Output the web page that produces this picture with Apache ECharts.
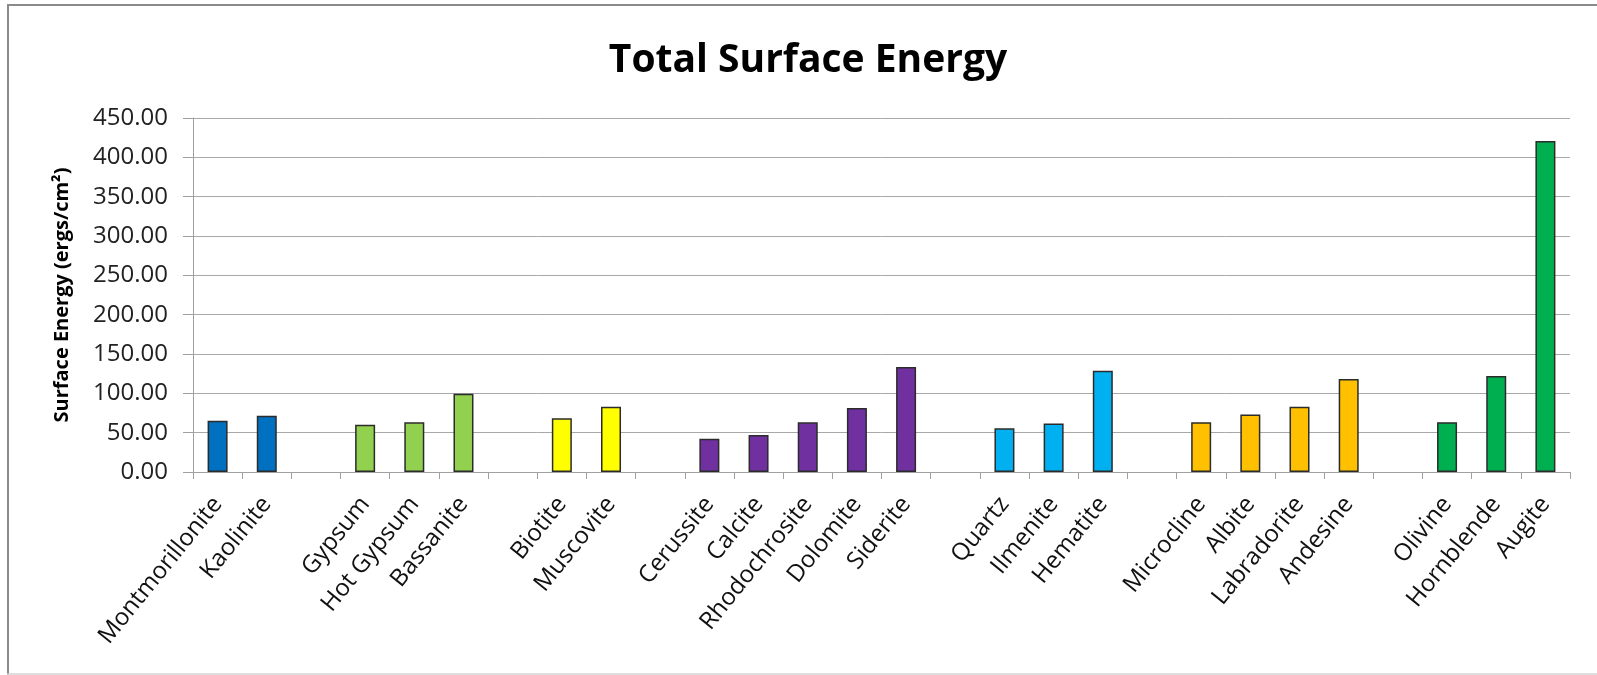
<!DOCTYPE html>
<html>
<head>
<meta charset="utf-8">
<title>Total Surface Energy</title>
<script src="https://cdn.jsdelivr.net/npm/echarts@6/dist/echarts.min.js"></script>
<style>
  html, body { margin: 0; padding: 0; background: #fff; }
  #chart { width: 1597px; height: 675px; }
</style>
</head>
<body>
<div id="chart"></div>
<script>
// Minerals, with empty slots separating the mineral groups
const minerals = [
  'Montmorillonite', 'Kaolinite', '',
  'Gypsum', 'Hot Gypsum', 'Bassanite', '',
  'Biotite', 'Muscovite', '',
  'Cerussite', 'Calcite', 'Rhodochrosite', 'Dolomite', 'Siderite', '',
  'Quartz', 'Ilmenite', 'Hematite', '',
  'Microcline', 'Albite', 'Labradorite', 'Andesine', '',
  'Olivine', 'Hornblende', 'Augite'
];

// Total surface energy, ergs/cm²
const surfaceEnergy = [
  65.3, 71.6, null,
  60.2, 63.1, 99.6, null,
  68.2, 83.1, null,
  42.4, 47.0, 63.1, 81.4, 133.6, null,
  55.5, 61.8, 128.6, null,
  63.4, 73.1, 82.8, 118.3, null,
  63.4, 122.1, 420.8
];

// Group index of each mineral (clays, sulfates, micas, carbonates, oxides, feldspars, silicates)
const mineralGroup = [
  0, 0, null,
  1, 1, 1, null,
  2, 2, null,
  3, 3, 3, 3, 3, null,
  4, 4, 4, null,
  5, 5, 5, 5, null,
  6, 6, 6
];

const yTicks = { min: 0, max: 450, step: 50 };

const groupColors = ['#0070C0', '#92D050', '#FFFF00', '#7030A0', '#00B0F0', '#FFC000', '#00B050'];

const FONT = 'Open Sans';

const barData = surfaceEnergy.map((v, i) => ({
  value: v,
  itemStyle: mineralGroup[i] == null ? undefined : { color: groupColors[mineralGroup[i]] }
}));

const chart = echarts.init(document.getElementById('chart'), null, { renderer: 'canvas' });

chart.setOption({
  backgroundColor: '#ffffff',
  animation: false,
  title: {
    text: 'Total Surface Energy',
    left: 803,
    textAlign: 'center',
    top: 36,
    textStyle: { fontFamily: FONT, fontWeight: 'bold', fontSize: 39, color: '#000000' }
  },
  grid: {
    left: 193, right: 27, top: 118, bottom: 203,
    containLabel: false,
    outerBoundsMode: 'none'
  },
  xAxis: {
    type: 'category',
    data: minerals,
    boundaryGap: true,
    axisLine: { show: true, lineStyle: { color: '#a0a0a0', width: 1 } },
    axisTick: { show: true, alignWithLabel: false, interval: 0, length: 7, lineStyle: { color: '#a0a0a0' } },
    axisLabel: {
      interval: 0,
      rotate: 51,
      margin: 28,
      fontFamily: FONT,
      fontSize: 24,
      color: '#111111'
    },
    splitLine: { show: false }
  },
  yAxis: {
    type: 'value',
    min: yTicks.min,
    max: yTicks.max,
    interval: yTicks.step,
    name: 'Surface Energy (ergs/cm²)',
    nameLocation: 'middle',
    nameGap: 121,
    nameTextStyle: { fontFamily: FONT, fontWeight: 'bold', fontSize: 20, color: '#000000' },
    axisLine: { show: true, lineStyle: { color: '#a0a0a0', width: 1 } },
    axisTick: { show: true, length: 10, lineStyle: { color: '#a0a0a0' } },
    axisLabel: {
      margin: 25,
      fontFamily: FONT,
      fontSize: 24,
      color: '#222222',
      formatter: v => v.toFixed(2)
    },
    splitLine: { show: true, lineStyle: { color: '#a8a8a8', width: 1 } }
  },
  series: [{
    type: 'bar',
    data: barData,
    barWidth: 20,
    itemStyle: { borderColor: '#2b2b2b', borderWidth: 1.5 }
  }],
  graphic: [
    { type: 'line', shape: { x1: 7, y1: 5, x2: 1597, y2: 5 }, style: { stroke: '#8a8a8a', lineWidth: 2 }, silent: true },
    { type: 'line', shape: { x1: 8, y1: 5, x2: 8, y2: 675 }, style: { stroke: '#8a8a8a', lineWidth: 2 }, silent: true },
    { type: 'line', shape: { x1: 7, y1: 674, x2: 1597, y2: 674 }, style: { stroke: '#d4d4d4', lineWidth: 1.5 }, silent: true }
  ]
});
</script>
</body>
</html>
